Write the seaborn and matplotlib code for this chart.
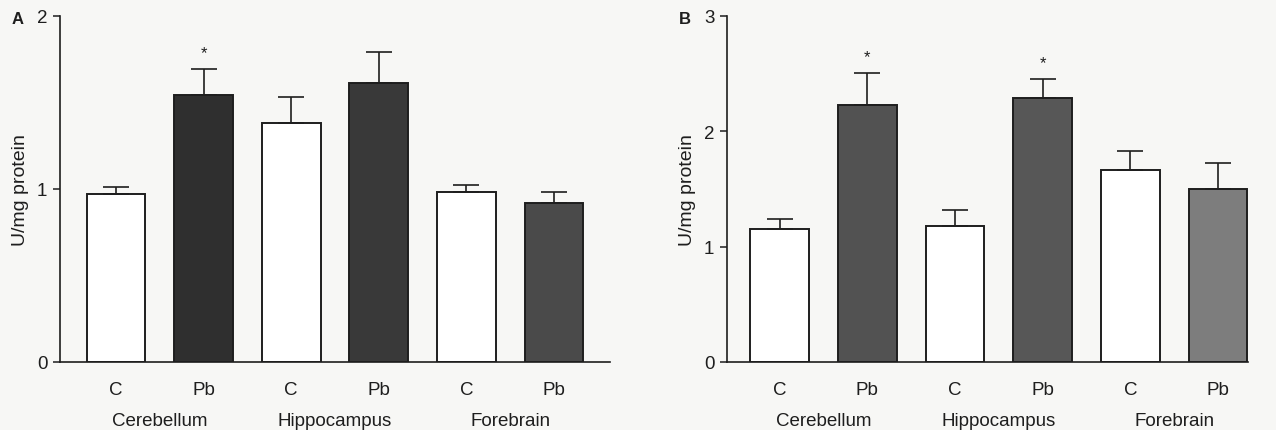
import matplotlib
matplotlib.use("Agg")
import matplotlib.pyplot as plt
import seaborn as sns
import pandas as pd

sns.set_style("ticks")
plt.rcParams['font.family'] = ['Liberation Sans Narrow', 'Liberation Sans', 'DejaVu Sans']

# ---- data ----
regions = ["Cerebellum", "Hippocampus", "Forebrain"]
groups = ["C", "Pb"]
bar_keys = ["Cer-C", "Cer-Pb", "Hip-C", "Hip-Pb", "For-C", "For-Pb"]
tick_labels = ["C", "Pb", "C", "Pb", "C", "Pb"]

a_values = [0.97, 1.54, 1.38, 1.61, 0.98, 0.92]
a_errors = [0.04, 0.15, 0.15, 0.18, 0.04, 0.06]
a_star = [False, True, False, False, False, False]

b_values = [1.15, 2.23, 1.18, 2.29, 1.66, 1.50]
b_errors = [0.085, 0.27, 0.135, 0.16, 0.17, 0.22]
b_star = [False, True, False, True, False, False]

a_colors = ["white", "#2f2f2f", "white", "#393939", "white", "#4a4a4a"]
b_colors = ["white", "#525252", "white", "#575757", "white", "#7d7d7d"]

ink = "#1e1e1e"
bg = "#f7f7f5"

fig = plt.figure(figsize=(12.76, 4.31), dpi=100, facecolor=bg)
axA = fig.add_axes([0.047, 0.158, 0.431, 0.803])
axB = fig.add_axes([0.5697, 0.158, 0.4083, 0.803])


def panel(ax, values, errors, stars, colors, ymax, xlim, letter, letter_x):
    df = pd.DataFrame({"bar": bar_keys, "value": values})
    sns.barplot(data=df, x="bar", y="value", order=bar_keys, hue="bar",
                palette=dict(zip(bar_keys, colors)), legend=False,
                width=0.67, edgecolor=ink, linewidth=1.4, ax=ax,
                errorbar=None)
    xs = list(range(len(bar_keys)))
    ax.errorbar(xs, values, yerr=[[0] * len(values), errors], fmt="none",
                ecolor=ink, elinewidth=1.2, capsize=9.5, capthick=1.2,
                zorder=5)
    for x, v, e, s in zip(xs, values, errors, stars):
        if s:
            ax.annotate("*", xy=(x, v + e), xytext=(0, 12),
                        textcoords="offset points", ha="center",
                        va="center", fontsize=12, color=ink)
    ax.set_facecolor(bg)
    ax.set_ylim(0, ymax)
    ax.set_xlim(*xlim)
    ax.set_yticks(range(0, ymax + 1))
    ax.set_xticks(xs)
    ax.set_xticklabels(tick_labels)
    ax.tick_params(axis="x", length=0, pad=14, labelsize=13.5, colors=ink)
    ax.tick_params(axis="y", length=5, width=1.1, pad=4, labelsize=13.5,
                   colors=ink, direction="out")
    ax.set_xlabel("")
    ax.set_ylabel("U/mg protein", fontsize=14, color=ink, labelpad=6)
    for sp in ["top", "right"]:
        ax.spines[sp].set_visible(False)
    for sp in ["left", "bottom"]:
        ax.spines[sp].set_linewidth(1.2)
        ax.spines[sp].set_color(ink)
    for i, r in enumerate(regions):
        ax.text(2 * i + 0.5, -0.168, r, transform=ax.get_xaxis_transform(),
                ha="center", va="center", fontsize=13.5, color=ink)
    fig.text(letter_x, 0.955, letter, fontsize=12, fontweight="bold",
             color=ink, ha="left", va="center")


panel(axA, a_values, a_errors, a_star, a_colors, 2, (-0.64, 5.64), "A", 0.009)
panel(axB, b_values, b_errors, b_star, b_colors, 3, (-0.6, 5.34), "B", 0.532)

fig.savefig("out.png", dpi=100, facecolor=bg)
